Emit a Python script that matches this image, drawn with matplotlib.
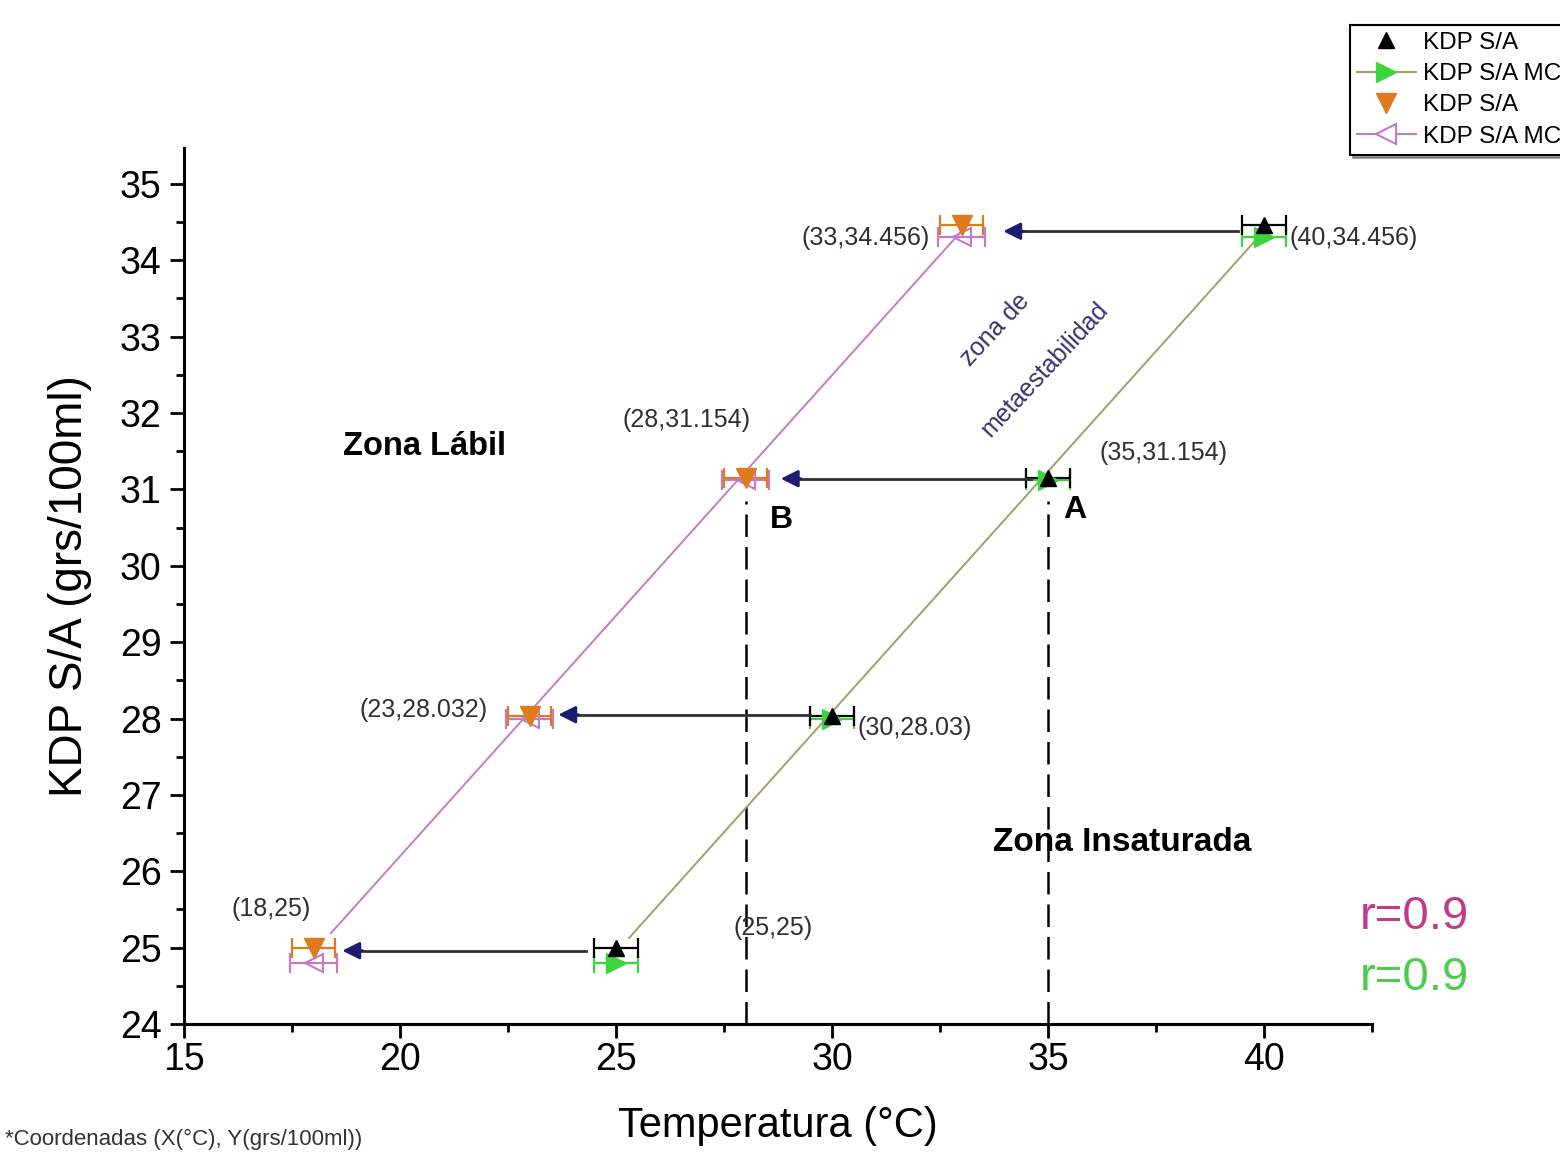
import matplotlib
matplotlib.use("Agg")
import matplotlib.pyplot as plt
from matplotlib.lines import Line2D
from matplotlib.ticker import MultipleLocator
import numpy as np

plt.rcParams['font.family'] = ['Liberation Sans', 'DejaVu Sans']

# Solubility series (temperature in °C, KDP in grs/100ml)
temp_sat = [25, 30, 35, 40]
kdp_sat = [25, 28.03, 31.154, 34.456]
kdp_sat_mc = [24.8, 28.0, 31.12, 34.3]

temp_sup = [18, 23, 28, 33]
kdp_sup = [25, 28.032, 31.154, 34.456]
kdp_sup_mc = [24.8, 28.0, 31.12, 34.3]

temp_err = 0.5

# Cooling arrows (tail temperature, head temperature, level)
arrow_from = [24.3, 29.5, 34.6, 39.4]
arrow_to = [18.6, 23.6, 28.75, 33.9]
arrow_level = [24.96, 28.05, 31.14, 34.38]

# Coordinate labels
coord_text = ["(40,34.456)", "(35,31.154)", "(30,28.03)", "(25,25)",
              "(33,34.456)", "(28,31.154)", "(23,28.032)", "(18,25)"]
coord_x = [40.6, 36.2, 30.6, 27.71, 32.27, 25.14, 19.07, 16.11]
coord_y = [34.29, 31.48, 27.88, 25.26, 34.29, 31.91, 28.115, 25.5]
coord_ha = ["left"] * 4 + ["right", "left", "left", "left"]

legend_labels = ["KDP S/A", "KDP S/A MC", "KDP S/A", "KDP S/A MC"]

c_green = "#3cd63c"
c_orange = "#e07a1f"
c_purple = "#c47ac8"
c_olive = "#a0a068"
c_navy = "#1c1c70"

fig = plt.figure(figsize=(15.6, 11.52), dpi=100)
ax = fig.add_axes([184 / 1560, 1 - 1024 / 1152, (1372 - 184) / 1560, (1024 - 148) / 1152])
ax.set_xlim(15, 42.5)
ax.set_ylim(24, 35.47)

# Linear fits for the two curves
xs = np.array(temp_sat, float)
p = np.polyfit(xs, kdp_sat, 1)
ax.plot([xs[0] + 0.3, xs[-1]], np.polyval(p, [xs[0] + 0.3, xs[-1]]), color=c_olive, lw=1.4, zorder=2)
xb = np.array(temp_sup, float)
q = np.polyfit(xb, kdp_sup, 1)
ax.plot([xb[0] + 0.4, xb[-1]], np.polyval(q, [xb[0] + 0.4, xb[-1]]), color=c_purple, lw=1.4, zorder=2)

# Dashed guides below points B and A
ax.plot([temp_sup[2], temp_sup[2]], [24, 30.85], color="black", lw=1.8, ls=(0, (9, 4)), zorder=1)
ax.plot([temp_sat[2], temp_sat[2]], [24, 30.85], color="black", lw=1.8, ls=(0, (9, 4)), zorder=1)

# Error bars
ax.errorbar(temp_sup, kdp_sup_mc, xerr=temp_err + 0.05, fmt="none", ecolor=c_purple, elinewidth=1.6, capsize=7, capthick=1.6, zorder=3)
ax.errorbar(temp_sup, kdp_sup, xerr=temp_err, fmt="none", ecolor=c_orange, elinewidth=1.6, capsize=7, capthick=1.6, zorder=3)
ax.errorbar(temp_sat, kdp_sat_mc, xerr=temp_err, fmt="none", ecolor=c_green, elinewidth=1.6, capsize=7, capthick=1.6, zorder=3)
ax.errorbar(temp_sat, kdp_sat, xerr=temp_err, fmt="none", ecolor="black", elinewidth=1.6, capsize=7, capthick=1.6, zorder=3)

# Markers
ax.plot(temp_sup, kdp_sup_mc, ls="none", marker="<", ms=13, mfc="none", mec=c_purple, mew=1.5, zorder=4)
ax.plot(temp_sup, kdp_sup, ls="none", marker="v", ms=15, color=c_orange, zorder=5)
ax.plot(temp_sat, kdp_sat_mc, ls="none", marker=">", ms=14, color=c_green, zorder=4)
ax.plot(temp_sat, kdp_sat, ls="none", marker="^", ms=12, color="black", zorder=5)

# Cooling arrows
for x0, x1, y in zip(arrow_from, arrow_to, arrow_level):
    ax.plot([x0, x1 + 0.5], [y, y], color="#303038", lw=2.0, zorder=3)
    ax.annotate("", xy=(x1, y), xytext=(x1 + 0.6, y),
                arrowprops=dict(arrowstyle="-|>", color=c_navy, lw=2.0, mutation_scale=26), zorder=4)

# Coordinate labels
for t, x, y, ha in zip(coord_text, coord_x, coord_y, coord_ha):
    ax.text(x, y, t, ha=ha, va="center", fontsize=18, color="#303030")

ax.text(18.68, 31.56, "Zona Lábil", fontsize=23.5, fontweight="bold", va="center", ha="left")
ax.text(33.73, 26.37, "Zona Insaturada", fontsize=24, fontweight="bold", va="center", ha="left")
ax.text(28.56, 30.6, "B", fontsize=23, fontweight="bold", va="center", ha="left")
ax.text(35.35, 30.73, "A", fontsize=23, fontweight="bold", va="center", ha="left")
ax.text(33.77, 33.09, "zona de", fontsize=18, color="#34346e", rotation=47, ha="center", va="center")
ax.text(34.93, 32.57, "metaestabilidad", fontsize=18, color="#34346e", rotation=47, ha="center", va="center")
ax.text(42.22, 25.4, "r=0.9", fontsize=34, color="#c0398a", ha="left", va="center", clip_on=False)
ax.text(42.22, 24.6, "r=0.9", fontsize=34, color="#4ccc4c", ha="left", va="center", clip_on=False)

# Axes styling
for side in ["top", "right"]:
    ax.spines[side].set_visible(False)
for side in ["left", "bottom"]:
    ax.spines[side].set_linewidth(2.2)
ax.xaxis.set_major_locator(MultipleLocator(5))
ax.xaxis.set_minor_locator(MultipleLocator(2.5))
ax.yaxis.set_major_locator(MultipleLocator(1))
ax.yaxis.set_minor_locator(MultipleLocator(0.5))
ax.tick_params(which="major", direction="out", length=10, width=2, labelsize=27, pad=3)
ax.tick_params(which="minor", direction="out", length=6, width=2)
ax.tick_params(axis="y", which="major", pad=6)
ax.set_xlabel("Temperatura (°C)", fontsize=30, labelpad=20)
ax.set_ylabel("KDP S/A (grs/100ml)", fontsize=33, labelpad=20)

# Legend
handles = [
    Line2D([], [], ls="none", marker="^", ms=12, color="black"),
    Line2D([], [], color=c_olive, lw=1.5, marker=">", ms=15, mfc=c_green, mec=c_green),
    Line2D([], [], ls="none", marker="v", ms=15, color=c_orange),
    Line2D([], [], color=c_purple, lw=1.5, marker="<", ms=14, mfc="white", mec=c_purple, mew=1.5),
]
leg = fig.legend(handles, legend_labels, loc="lower left", bbox_to_anchor=(1350 / 1560, 1 - 155 / 1152),
                 fontsize=17.5, frameon=True, fancybox=False, shadow=True, labelspacing=0.38,
                 handlelength=2.4, handletextpad=0.3, borderpad=0.3, borderaxespad=0)
leg.get_frame().set_edgecolor("black")
leg.get_frame().set_linewidth(1.5)

fig.text(5 / 1560, 1 - 1150 / 1152, "*Coordenadas (X(°C), Y(grs/100ml))", fontsize=16, color="#333333", ha="left", va="bottom")

fig.savefig("out.png", dpi=100, facecolor="white")
